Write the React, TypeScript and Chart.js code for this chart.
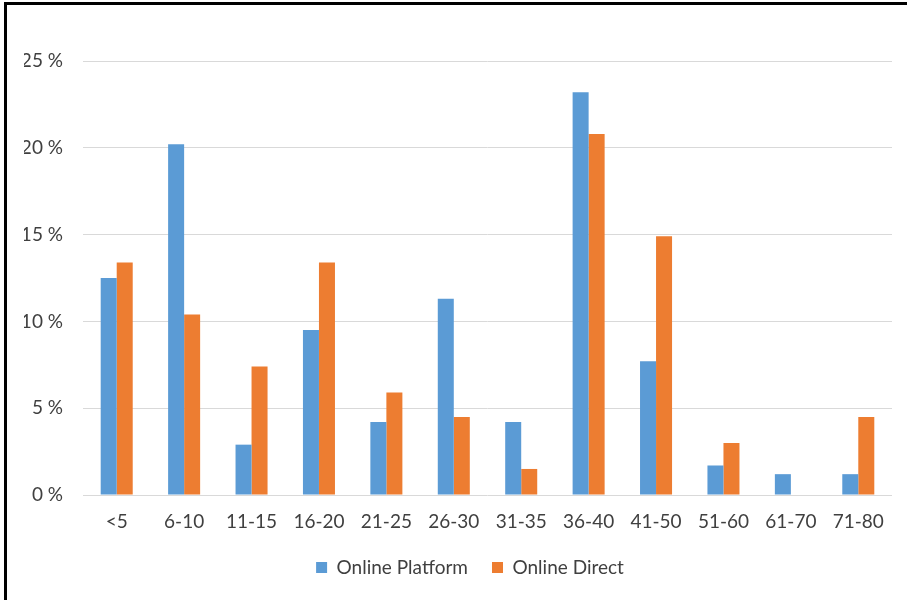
import React, { useEffect, useRef } from "react";
import { Chart, registerables } from "chart.js";

Chart.register(...registerables);

const categories = ["<5", "6-10", "11-15", "16-20", "21-25", "26-30", "31-35", "36-40", "41-50", "51-60", "61-70", "71-80"];
const onlinePlatform = [12.5, 20.2, 2.9, 9.5, 4.2, 11.3, 4.2, 23.2, 7.7, 1.7, 1.2, 1.2];
const onlineDirect = [13.4, 10.4, 7.4, 13.4, 5.9, 4.5, 1.5, 20.8, 14.9, 3.0, 0, 4.5];
const yTicks = [0, 5, 10, 15, 20, 25];

const FONT = "Lato, 'Open Sans', sans-serif";
const TEXT = "#404040";

const legendShift = {
  id: "legendShift",
  afterLayout(chart: any) {
    if (chart.legend) {
      chart.legend.left += 12;
      chart.legend.right += 12;
    }
  },
};

export default function App() {
  const ref = useRef<HTMLCanvasElement | null>(null);
  useEffect(() => {
    if (!ref.current) return;
    const chart = new Chart(ref.current, {
      type: "bar",
      data: {
        labels: categories,
        datasets: [
          { label: "Online Platform", data: onlinePlatform, backgroundColor: "#5B9BD5", borderWidth: 0 },
          { label: "Online Direct", data: onlineDirect, backgroundColor: "#ED7D31", borderWidth: 0 },
        ],
      },
      plugins: [legendShift],
      options: {
        animation: false,
        responsive: false,
        maintainAspectRatio: false,
        layout: { padding: { top: 61, left: 24, right: 15, bottom: 13 } },
        datasets: { bar: { categoryPercentage: 0.475, barPercentage: 1.0 } },
        plugins: {
          tooltip: { enabled: false },
          legend: {
            position: "bottom",
            labels: {
              boxWidth: 11,
              boxHeight: 11,
              padding: 24,
              color: TEXT,
              font: { family: FONT, size: 19 },
            },
          },
        },
        scales: {
          x: {
            grid: { display: false, drawTicks: false },
            border: { display: false },
            ticks: { color: TEXT, font: { family: FONT, size: 19 }, padding: 15, maxRotation: 0, autoSkip: false },
            afterFit: (s: any) => {
              s.height = 39;
            },
          },
          y: {
            min: 0,
            max: 25,
            afterBuildTicks: (axis: any) => {
              axis.ticks = yTicks.map((v) => ({ value: v }));
            },
            grid: { color: "#D9D9D9", lineWidth: 1, drawTicks: false },
            border: { display: false },
            ticks: {
              color: TEXT,
              font: { family: FONT, size: 19 },
              padding: 20,
              callback: (v: any) => `${v} %`,
            },
            afterFit: (s: any) => {
              s.width = 59;
            },
          },
        },
      },
    });
    return () => chart.destroy();
  }, []);

  return (
    <div style={{ position: "fixed", left: 0, top: 0, width: 907, height: 600, overflow: "hidden", background: "#fff" }}>
      <div
        style={{
          position: "absolute",
          left: 4,
          top: 2,
          width: 1000,
          height: 1000,
          borderTop: "3px solid #000",
          borderLeft: "3px solid #000",
        }}
      />
      <canvas ref={ref} width={907} height={600} style={{ position: "absolute", left: 0, top: 0 }} />
    </div>
  );
}
